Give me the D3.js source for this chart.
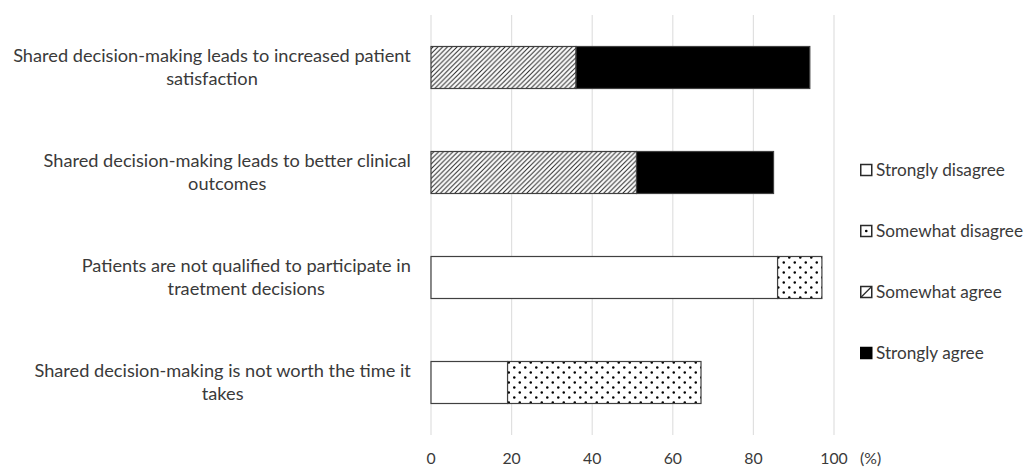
<!DOCTYPE html>
<html>
<head>
<meta charset="utf-8">
<script src="https://cdn.jsdelivr.net/npm/d3@7/dist/d3.min.js"></script>
<style>
  html, body { margin: 0; padding: 0; background: #fff; }
  svg { display: block; }
  text { font-family: Lato, "Open Sans", sans-serif; fill: #3a3a3a; }
</style>
</head>
<body>
<svg id="chart" width="1033" height="468"></svg>
<script>
// Survey statements, each split into the lines shown beside its bar
const categories = [
  ["Shared decision-making leads to increased patient", "satisfaction"],
  ["Shared decision-making leads to better clinical", "outcomes"],
  ["Patients are not qualified to participate in", "traetment decisions"],
  ["Shared decision-making is not worth the time it", "takes"]
];

// Response shares (%) per statement
const stronglyDisagree = [0, 0, 86, 19];
const somewhatDisagree = [0, 0, 11, 48];
const somewhatAgree    = [36, 51, 0, 0];
const stronglyAgree    = [58, 34, 0, 0];

const seriesNames = ["Strongly disagree", "Somewhat disagree", "Somewhat agree", "Strongly agree"];
const xTicks = [0, 20, 40, 60, 80, 100];
const unitLabel = "(%)";

const svg = d3.select("#chart");
const FONT = "Lato, 'Open Sans', sans-serif";

// ---- fill patterns ----
const defs = svg.append("defs");
const hatch = defs.append("pattern")
  .attr("id", "hatch").attr("patternUnits", "userSpaceOnUse")
  .attr("width", 4.8).attr("height", 4.8);
hatch.append("rect").attr("width", 4.8).attr("height", 4.8).attr("fill", "#fff");
hatch.append("path")
  .attr("d", "M0,4.8 L4.8,0 M-1.2,1.2 L1.2,-1.2 M3.6,6 L6,3.6")
  .attr("stroke", "#222").attr("stroke-width", 1);

const dots = defs.append("pattern")
  .attr("id", "dots").attr("patternUnits", "userSpaceOnUse")
  .attr("width", 11).attr("height", 10);
dots.append("rect").attr("width", 11).attr("height", 10).attr("fill", "#fff");
dots.append("circle").attr("cx", 2.75).attr("cy", 2.5).attr("r", 1.25).attr("fill", "#000");
dots.append("circle").attr("cx", 8.25).attr("cy", 7.5).attr("r", 1.25).attr("fill", "#000");

const fills = ["#fff", "url(#dots)", "url(#hatch)", "#000"];

// ---- scales ----
const x = d3.scaleLinear().domain([0, 100]).range([431, 834]);
const y = d3.scaleBand().domain(d3.range(categories.length))
  .range([15, 435]).paddingInner(0.6).paddingOuter(0.3);

// width measurement helper
const measure = svg.append("text").attr("x", -1000).attr("y", -1000)
  .style("font-family", FONT).style("font-size", "100px");
function widthAt100(s) { measure.text(s); return measure.node().getComputedTextLength(); }
function fitSize(s, target) { return 100 * target / widthAt100(s); }

// ---- gridlines ----
svg.append("g").attr("class", "grid")
  .selectAll("line").data(xTicks).join("line")
  .attr("x1", d => x(d)).attr("x2", d => x(d))
  .attr("y1", 15).attr("y2", 435)
  .attr("stroke", "#e0e0e0").attr("stroke-width", 1.2);

// ---- stacked bars ----
const rows = categories.map((c, i) => ({
  i, vals: [stronglyDisagree[i], somewhatDisagree[i], somewhatAgree[i], stronglyAgree[i]]
}));
const segs = [];
rows.forEach(r => {
  let acc = 0;
  r.vals.forEach((v, k) => {
    if (v > 0) segs.push({ i: r.i, k, x0: acc, x1: acc + v });
    acc += v;
  });
});
svg.append("g").selectAll("rect").data(segs).join("rect")
  .attr("x", d => x(d.x0))
  .attr("y", d => y(d.i))
  .attr("width", d => x(d.x1) - x(d.x0))
  .attr("height", y.bandwidth())
  .attr("fill", d => fills[d.k])
  .attr("stroke", "#404040").attr("stroke-width", 1.2);

// ---- category labels (centred block, right edge near the axis) ----
const catSize = fitSize(categories[0][0], 398);
const labelRight = 411;
const lineGap = 23;
const catG = svg.append("g").style("font-size", catSize + "px");
categories.forEach((lines, i) => {
  const w = d3.max(lines, s => widthAt100(s) * catSize / 100);
  const cx = labelRight - w / 2;
  const cy = y(i) + y.bandwidth() / 2;
  lines.forEach((s, j) => {
    catG.append("text")
      .attr("x", cx)
      .attr("y", cy + (j - (lines.length - 1) / 2) * lineGap)
      .attr("dy", "0.35em")
      .attr("text-anchor", "middle")
      .text(s);
  });
});

// ---- x axis tick labels ----
const tickSize = fitSize("100", 27.5);
svg.append("g").style("font-size", tickSize + "px")
  .selectAll("text").data(xTicks).join("text")
  .attr("x", d => x(d)).attr("y", 458).attr("dy", "0.35em")
  .attr("text-anchor", "middle")
  .text(d => d);
svg.append("text").style("font-size", tickSize + "px")
  .attr("x", 860).attr("y", 458).attr("dy", "0.35em")
  .text(unitLabel);

// ---- legend ----
const legSize = fitSize(seriesNames[1], 147);
const leg = svg.append("g").style("font-size", legSize + "px");
seriesNames.forEach((name, k) => {
  const cy = 170 + k * 61;
  const g = leg.append("g").attr("transform", `translate(860,${cy})`);
  const s = 11;
  g.append("rect").attr("x", 0.75).attr("y", -s / 2).attr("width", s).attr("height", s)
    .attr("fill", k === 3 ? "#000" : "#fff")
    .attr("stroke", k === 3 ? "#000" : "#2a2a2a").attr("stroke-width", 1.5);
  if (k === 1) {
    g.append("circle").attr("cx", 0.75 + s / 2).attr("cy", 0).attr("r", 1.3).attr("fill", "#000");
  }
  if (k === 2) {
    g.append("line").attr("x1", 0.75).attr("y1", s / 2).attr("x2", 0.75 + s).attr("y2", -s / 2)
      .attr("stroke", "#2a2a2a").attr("stroke-width", 1.3);
  }
  g.append("text").attr("x", 16).attr("y", 0).attr("dy", "0.35em").text(name);
});

measure.remove();
</script>
</body>
</html>
